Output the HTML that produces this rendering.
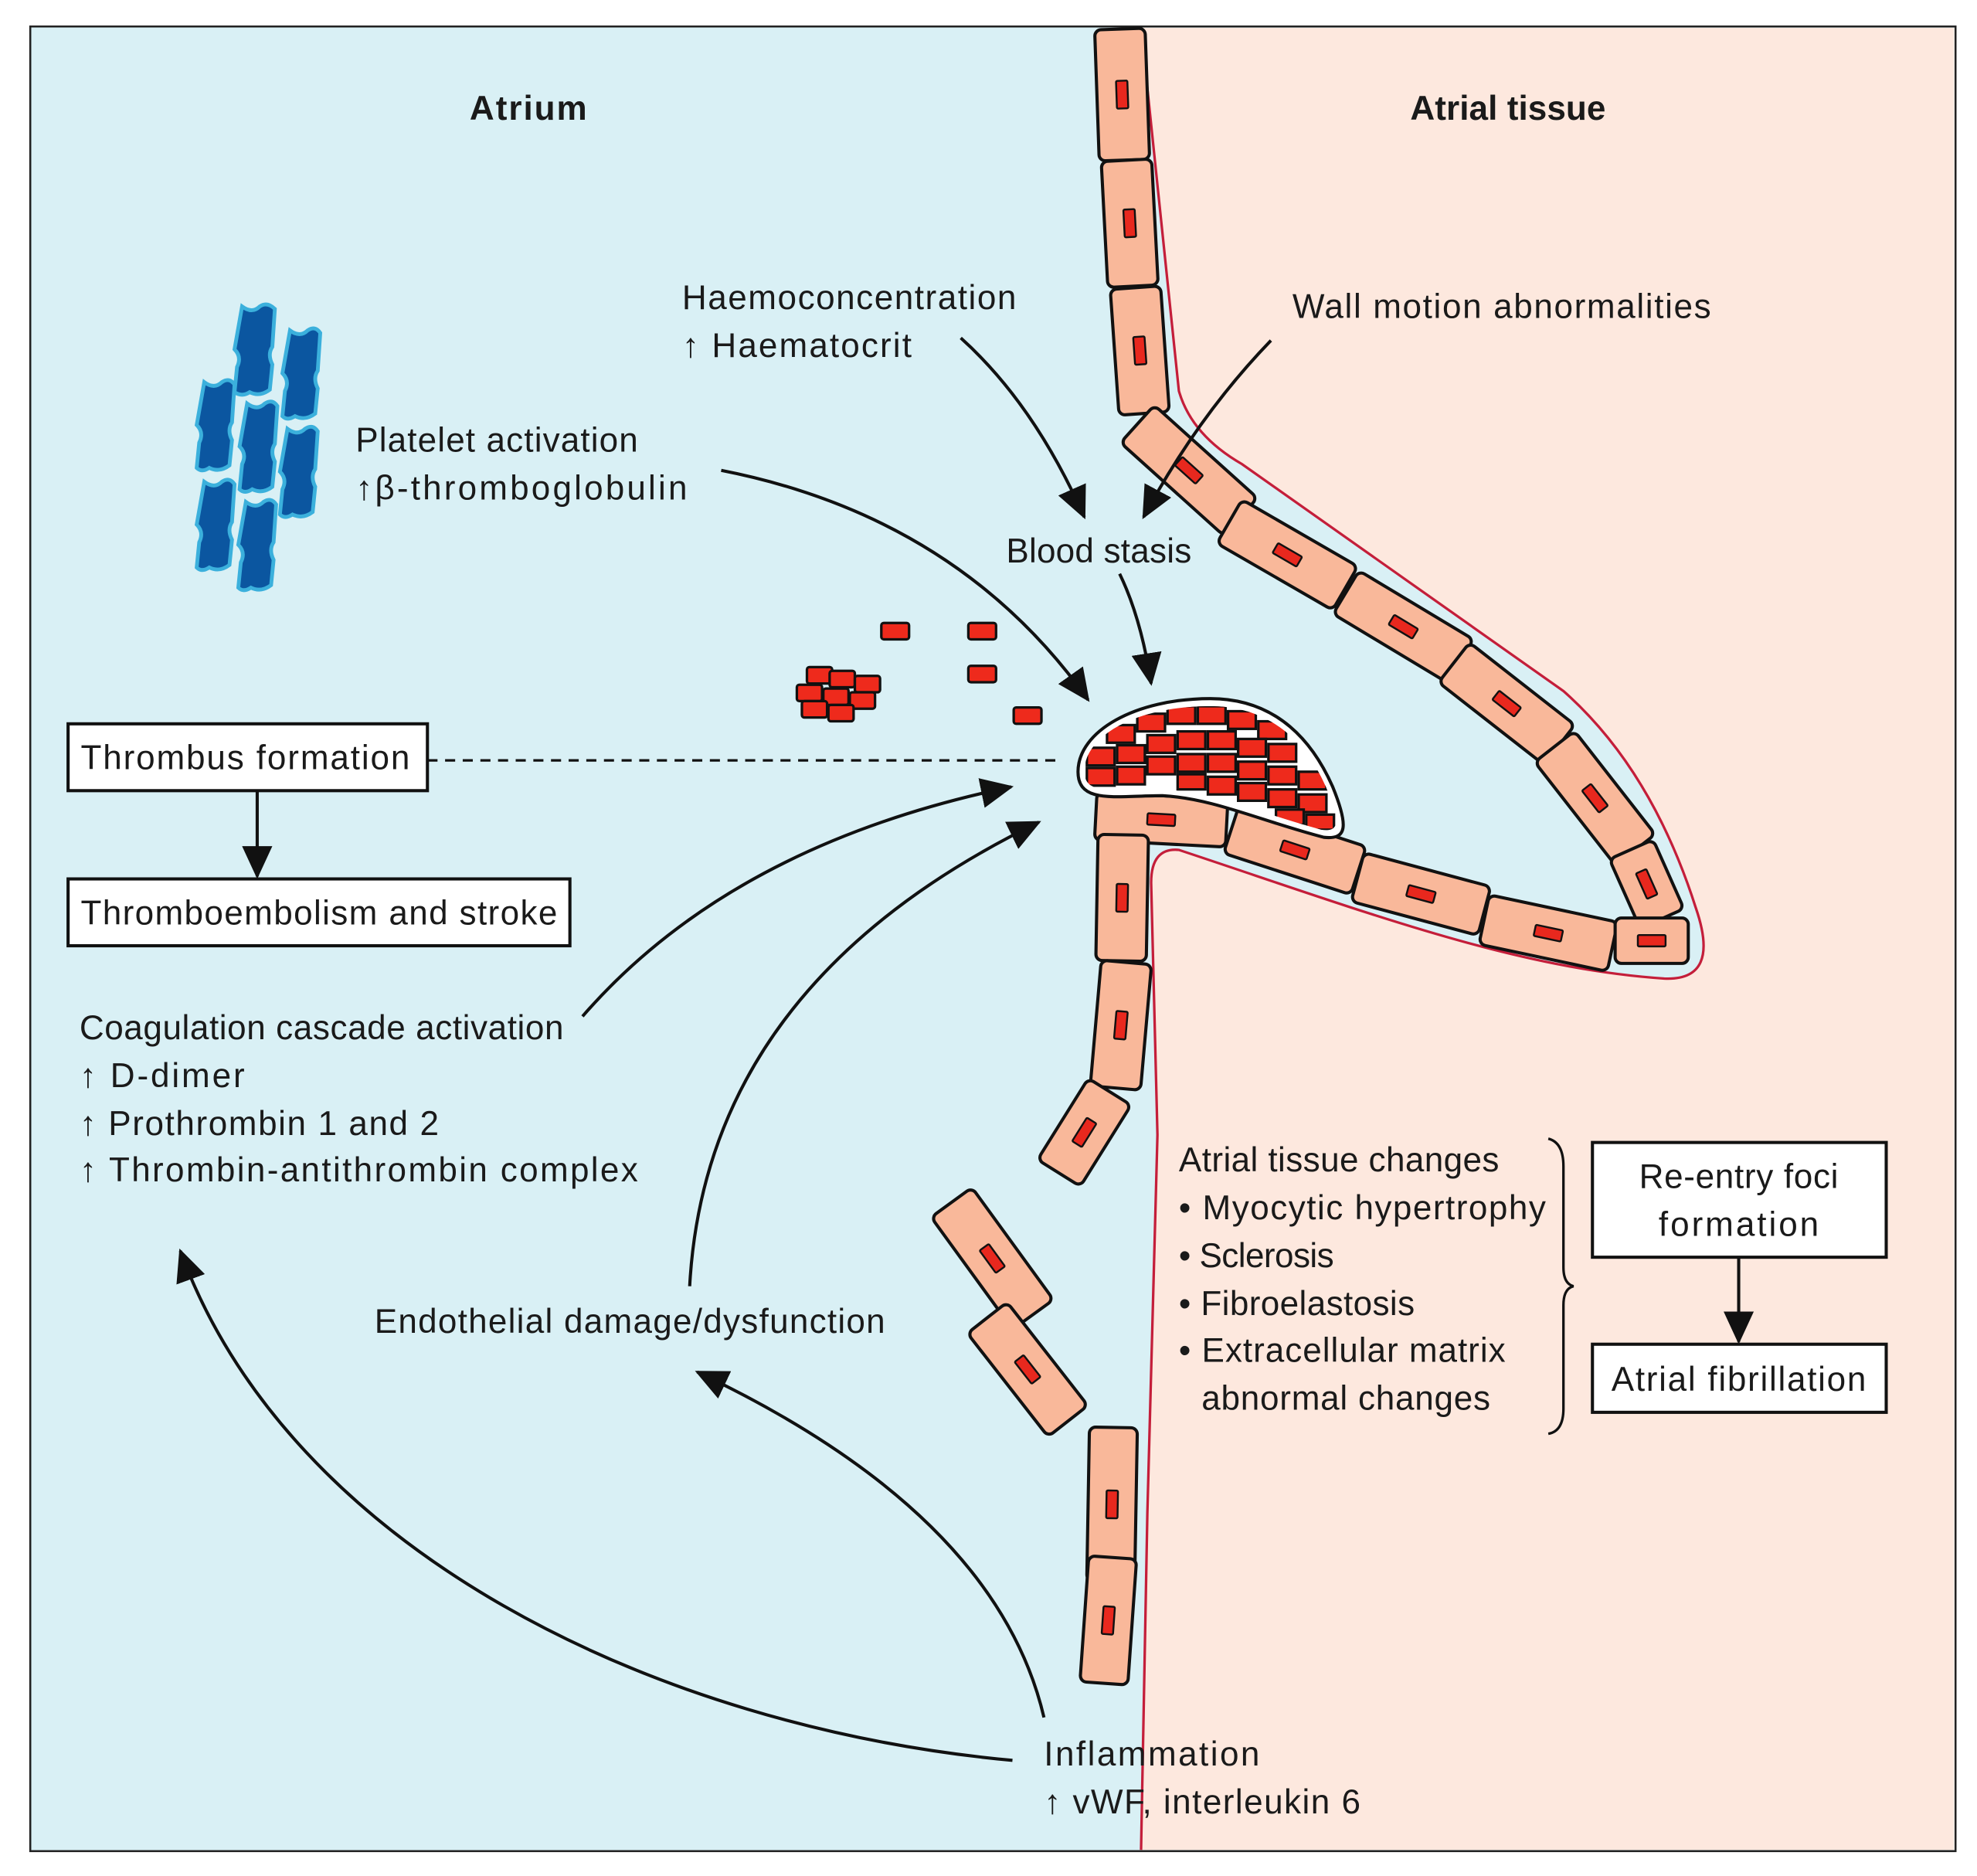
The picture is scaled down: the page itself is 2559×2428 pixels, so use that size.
<!DOCTYPE html>
<html><head><meta charset="utf-8"><style>
html,body{margin:0;padding:0;background:#fff}
svg{display:block}
text{font-family:"Liberation Sans",sans-serif;font-size:27px;fill:#1a1a1a}
.c rect.b{fill:#f9b89a;stroke:#111;stroke-width:2.5}
.c rect.n{fill:#e8281e;stroke:#111;stroke-width:1.5}
.br{fill:#ee2a1c;stroke:#111;stroke-width:2}
.pl{fill:#0b56a0;stroke:#3bb0dc;stroke-width:3}
.ar{fill:none;stroke:#111;stroke-width:2.5}
</style></head><body>
<svg width="2559" height="2428" viewBox="0 0 1568 1487.7" xmlns="http://www.w3.org/2000/svg">
<defs>
<marker id="a2" viewBox="-24 -12 26 24" refX="0" refY="0" markerWidth="26" markerHeight="24" markerUnits="userSpaceOnUse" orient="auto">
<path d="M-24,-12 L2,0 L-24,12 Z" fill="#111"/>
</marker>
<clipPath id="blob"><path d="M860,612 C860,583 902,560 960,560 C1010,560 1038,592 1052,625 C1064,652 1062,660 1048,658 C1000,645 962,628 922,626 C888,626 860,632 860,612 Z"/></clipPath>
</defs>
<rect x="0" y="0" width="1568" height="1488" fill="#fff"/>
<rect x="24" y="21" width="1527" height="1447" fill="#d9f0f5" stroke="#222" stroke-width="1.5"/>
<path d="M905,22 L1550,22 L1550,1467 L905,1467 L910,1200 L918,900 L913,700 Q913,672 935,674 C1080,722 1200,768 1320,776 Q1365,778 1345,720 Q1310,610 1240,548 L985,368 Q945,345 935,310 Z" fill="#fde8de"/>
<path d="M905,22 L935,310 Q945,345 985,368 L1240,548 Q1310,610 1345,720 Q1365,778 1320,776 C1200,768 1080,722 935,674 Q913,672 913,700 L918,900 L910,1200 L905,1467" fill="none" stroke="#c41e3a" stroke-width="2"/>
<rect x="24" y="21" width="1527" height="1447" fill="none" stroke="#222" stroke-width="1.5"/>

<g class="c">
<g transform="translate(890,75) rotate(88)"><rect class="b" x="-52" y="-20" width="104" height="40" rx="5"/><rect class="n" x="-11" y="-4.5" width="22" height="9" rx="1"/></g>
<g transform="translate(896,177) rotate(87)"><rect class="b" x="-50" y="-20" width="100" height="40" rx="5"/><rect class="n" x="-11" y="-4.5" width="22" height="9" rx="1"/></g>
<g transform="translate(904,278) rotate(86)"><rect class="b" x="-50" y="-20" width="100" height="40" rx="5"/><rect class="n" x="-11" y="-4.5" width="22" height="9" rx="1"/></g>
<g transform="translate(943,373) rotate(42)"><rect class="b" x="-55" y="-20" width="110" height="40" rx="5"/><rect class="n" x="-11" y="-4.5" width="22" height="9" rx="1"/></g>
<g transform="translate(1021,440) rotate(30)"><rect class="b" x="-53" y="-20" width="106" height="40" rx="5"/><rect class="n" x="-11" y="-4.5" width="22" height="9" rx="1"/></g>
<g transform="translate(1113,497) rotate(31)"><rect class="b" x="-53" y="-20" width="106" height="40" rx="5"/><rect class="n" x="-11" y="-4.5" width="22" height="9" rx="1"/></g>
<g transform="translate(1195,558) rotate(38)"><rect class="b" x="-53" y="-20" width="106" height="40" rx="5"/><rect class="n" x="-11" y="-4.5" width="22" height="9" rx="1"/></g>
<g transform="translate(1265,633) rotate(52)"><rect class="b" x="-52" y="-20" width="104" height="40" rx="5"/><rect class="n" x="-11" y="-4.5" width="22" height="9" rx="1"/></g>
<g transform="translate(1306,701) rotate(66)"><rect class="b" x="-30" y="-19" width="60" height="38" rx="5"/><rect class="n" x="-11" y="-4.5" width="22" height="9" rx="1"/></g>
<g transform="translate(921,650) rotate(3)"><rect class="b" x="-52" y="-19" width="104" height="38" rx="5"/><rect class="n" x="-11" y="-4.5" width="22" height="9" rx="1"/></g>
<g transform="translate(1027,674) rotate(18)"><rect class="b" x="-53" y="-20" width="106" height="40" rx="5"/><rect class="n" x="-11" y="-4.5" width="22" height="9" rx="1"/></g>
<g transform="translate(1127,709) rotate(15)"><rect class="b" x="-52" y="-20" width="104" height="40" rx="5"/><rect class="n" x="-11" y="-4.5" width="22" height="9" rx="1"/></g>
<g transform="translate(1228,740) rotate(12)"><rect class="b" x="-52" y="-20" width="104" height="40" rx="5"/><rect class="n" x="-11" y="-4.5" width="22" height="9" rx="1"/></g>
<g transform="translate(1310,746) rotate(0)"><rect class="b" x="-29" y="-18" width="58" height="36" rx="5"/><rect class="n" x="-11" y="-4.5" width="22" height="9" rx="1"/></g>
<g transform="translate(890,712) rotate(91)"><rect class="b" x="-50" y="-20" width="100" height="40" rx="5"/><rect class="n" x="-11" y="-4.5" width="22" height="9" rx="1"/></g>
<g transform="translate(889,813) rotate(95)"><rect class="b" x="-50" y="-20" width="100" height="40" rx="5"/><rect class="n" x="-11" y="-4.5" width="22" height="9" rx="1"/></g>
<g transform="translate(860,898) rotate(-58)"><rect class="b" x="-38" y="-20" width="76" height="40" rx="5"/><rect class="n" x="-11" y="-4.5" width="22" height="9" rx="1"/></g>
<g transform="translate(787,998) rotate(54)"><rect class="b" x="-55" y="-20" width="110" height="40" rx="5"/><rect class="n" x="-11" y="-4.5" width="22" height="9" rx="1"/></g>
<g transform="translate(815,1086) rotate(52)"><rect class="b" x="-52" y="-20" width="104" height="40" rx="5"/><rect class="n" x="-11" y="-4.5" width="22" height="9" rx="1"/></g>
<g transform="translate(882,1193) rotate(91)"><rect class="b" x="-61" y="-19" width="122" height="38" rx="5"/><rect class="n" x="-11" y="-4.5" width="22" height="9" rx="1"/></g>
<g transform="translate(879,1285) rotate(94)"><rect class="b" x="-50" y="-19" width="100" height="38" rx="5"/><rect class="n" x="-11" y="-4.5" width="22" height="9" rx="1"/></g>
</g>

<path d="M855,612 C855,580 900,554 960,554 C1014,554 1042,590 1057,624 C1070,656 1068,666 1050,664 C1000,651 962,633 922,631 C885,631 855,638 855,612 Z" fill="#fff" stroke="#111" stroke-width="2.5"/>
<g clip-path="url(#blob)">
<g class="br">
<rect x="878" y="575" width="22" height="14"/><rect x="902" y="566" width="22" height="14"/><rect x="926" y="560" width="22" height="14"/><rect x="950" y="560" width="22" height="14"/><rect x="974" y="564" width="22" height="14"/><rect x="998" y="572" width="22" height="14"/>
<rect x="862" y="593" width="22" height="14"/><rect x="886" y="591" width="22" height="14"/><rect x="910" y="583" width="22" height="14"/><rect x="934" y="580" width="22" height="14"/><rect x="958" y="580" width="22" height="14"/><rect x="982" y="586" width="22" height="14"/><rect x="1006" y="590" width="22" height="14"/>
<rect x="862" y="609" width="22" height="14"/><rect x="886" y="608" width="22" height="14"/><rect x="910" y="600" width="22" height="14"/><rect x="934" y="598" width="22" height="14"/><rect x="958" y="598" width="22" height="14"/><rect x="982" y="604" width="22" height="14"/><rect x="1006" y="608" width="22" height="14"/><rect x="1030" y="612" width="22" height="14"/>
<rect x="934" y="614" width="22" height="12"/><rect x="958" y="616" width="22" height="14"/><rect x="982" y="621" width="22" height="14"/><rect x="1006" y="626" width="22" height="14"/><rect x="1030" y="630" width="22" height="14"/><rect x="1036" y="646" width="22" height="12"/><rect x="1012" y="642" width="22" height="12"/>
</g></g>
<g class="br">
<rect x="699" y="494" width="22" height="13" rx="2"/><rect x="768" y="494" width="22" height="13" rx="2"/><rect x="768" y="528" width="22" height="13" rx="2"/><rect x="804" y="561" width="22" height="13" rx="2"/>
<rect x="640" y="529" width="20" height="13" rx="2"/><rect x="658" y="532" width="20" height="13" rx="2"/><rect x="678" y="536" width="20" height="13" rx="2"/>
<rect x="632" y="543" width="20" height="13" rx="2"/><rect x="653" y="546" width="20" height="13" rx="2"/><rect x="674" y="549" width="20" height="13" rx="2"/>
<rect x="636" y="556" width="20" height="13" rx="2"/><rect x="657" y="559" width="20" height="13" rx="2"/>
</g>
<g class="pl">
<path d="M192,243 q8,6 14,0 q6,-4 12,2 l-2,30 q-4,6 0,14 l-2,20 q-8,6 -16,2 q-6,4 -12,0 l2,-20 q4,-8 -2,-14 Z"/>
<path d="M230,262 q8,6 14,0 q6,-4 10,2 l-2,30 q-4,6 0,14 l-2,20 q-8,6 -16,2 q-6,4 -10,0 l2,-20 q4,-8 -2,-14 Z"/>
<path d="M162,303 q8,6 14,0 q6,-4 10,2 l-2,30 q-4,6 0,14 l-2,20 q-8,6 -16,2 q-6,4 -10,0 l2,-20 q4,-8 -2,-14 Z"/>
<path d="M196,320 q8,6 14,0 q6,-4 10,2 l-2,30 q-4,6 0,14 l-2,20 q-8,6 -16,2 q-6,4 -10,0 l2,-20 q4,-8 -2,-14 Z"/>
<path d="M228,340 q8,6 14,0 q6,-4 10,2 l-2,30 q-4,6 0,14 l-2,20 q-8,6 -16,2 q-6,4 -10,0 l2,-20 q4,-8 -2,-14 Z"/>
<path d="M162,382 q8,6 14,0 q6,-4 10,2 l-2,30 q-4,6 0,14 l-2,20 q-8,6 -16,2 q-6,4 -10,0 l2,-20 q4,-8 -2,-14 Z"/>
<path d="M195,398 q8,6 14,0 q6,-4 10,2 l-2,30 q-4,6 0,14 l-2,20 q-8,6 -16,2 q-6,4 -10,0 l2,-20 q4,-8 -2,-14 Z"/>
</g>

<path class="ar" d="M762,268 Q820,320 860,410" marker-end="url(#a2)"/>
<path class="ar" d="M1008,270 Q950,330 907,410" marker-end="url(#a2)"/>
<path class="ar" d="M572,373 Q760,410 863,555" marker-end="url(#a2)"/>
<path class="ar" d="M888,455 Q905,490 913,542" marker-end="url(#a2)"/>
<path class="ar" d="M462,806 Q580,670 802,624" marker-end="url(#a2)"/>
<path class="ar" d="M547,1020 Q560,780 824,652" marker-end="url(#a2)"/>
<path class="ar" d="M803,1396 C520,1370 230,1230 143,992" marker-end="url(#a2)"/>
<path class="ar" d="M828,1362 Q790,1200 553,1088" marker-end="url(#a2)"/>
<line x1="339" y1="603" x2="840" y2="603" stroke="#111" stroke-width="2" stroke-dasharray="8,6"/>
<line x1="204" y1="627" x2="204" y2="695" class="ar" marker-end="url(#a2)"/>
<line x1="1379" y1="997" x2="1379" y2="1064" class="ar" marker-end="url(#a2)"/>

<rect x="54" y="574" width="285" height="53" fill="#fff" stroke="#111" stroke-width="2.5"/>
<rect x="54" y="697" width="398" height="53" fill="#fff" stroke="#111" stroke-width="2.5"/>
<rect x="1263" y="906" width="233" height="91" fill="#fff" stroke="#111" stroke-width="2.5"/>
<rect x="1263" y="1066" width="233" height="54" fill="#fff" stroke="#111" stroke-width="2.5"/>
<path d="M1228,903 Q1240,906 1240,925 L1240,1005 Q1240,1018 1248,1020 Q1240,1022 1240,1035 L1240,1117 Q1240,1135 1228,1137" fill="none" stroke="#111" stroke-width="2"/>

<text x="419" y="95" text-anchor="middle" style="font-weight:bold;font-size:27px" textLength="93">Atrium</text>
<text x="1196" y="95" text-anchor="middle" style="font-weight:bold;font-size:27px" textLength="155">Atrial tissue</text>
<text x="541" y="245" textLength="265">Haemoconcentration</text>
<text x="541" y="283" textLength="182">↑ Haematocrit</text>
<text x="1025" y="252" textLength="332">Wall motion abnormalities</text>
<text x="282" y="358" textLength="224">Platelet activation</text>
<text x="282" y="396" textLength="263">↑β-thromboglobulin</text>
<text x="798" y="446" textLength="147">Blood stasis</text>
<text x="64" y="610" textLength="261">Thrombus formation</text>
<text x="64" y="733" textLength="378">Thromboembolism and stroke</text>
<text x="63" y="824" textLength="384">Coagulation cascade activation</text>
<text x="63" y="862" textLength="131">↑ D-dimer</text>
<text x="63" y="900" textLength="285">↑ Prothrombin 1 and 2</text>
<text x="63" y="937" textLength="443">↑ Thrombin-antithrombin complex</text>
<text x="297" y="1057" textLength="405">Endothelial damage/dysfunction</text>
<text x="828" y="1400" textLength="171">Inflammation</text>
<text x="828" y="1438" textLength="251">↑ vWF, interleukin 6</text>
<text x="935" y="929" textLength="254">Atrial tissue changes</text>
<text x="935" y="967" textLength="291">• Myocytic hypertrophy</text>
<text x="935" y="1005" textLength="123">• Sclerosis</text>
<text x="935" y="1043" textLength="187">• Fibroelastosis</text>
<text x="935" y="1080" textLength="259">• Extracellular matrix</text>
<text x="953" y="1118" textLength="229">abnormal changes</text>
<text x="1379" y="942" text-anchor="middle" textLength="158">Re-entry foci</text>
<text x="1379" y="980" text-anchor="middle" textLength="127">formation</text>
<text x="1379" y="1103" text-anchor="middle" textLength="202">Atrial fibrillation</text>
</svg>
</body></html>
